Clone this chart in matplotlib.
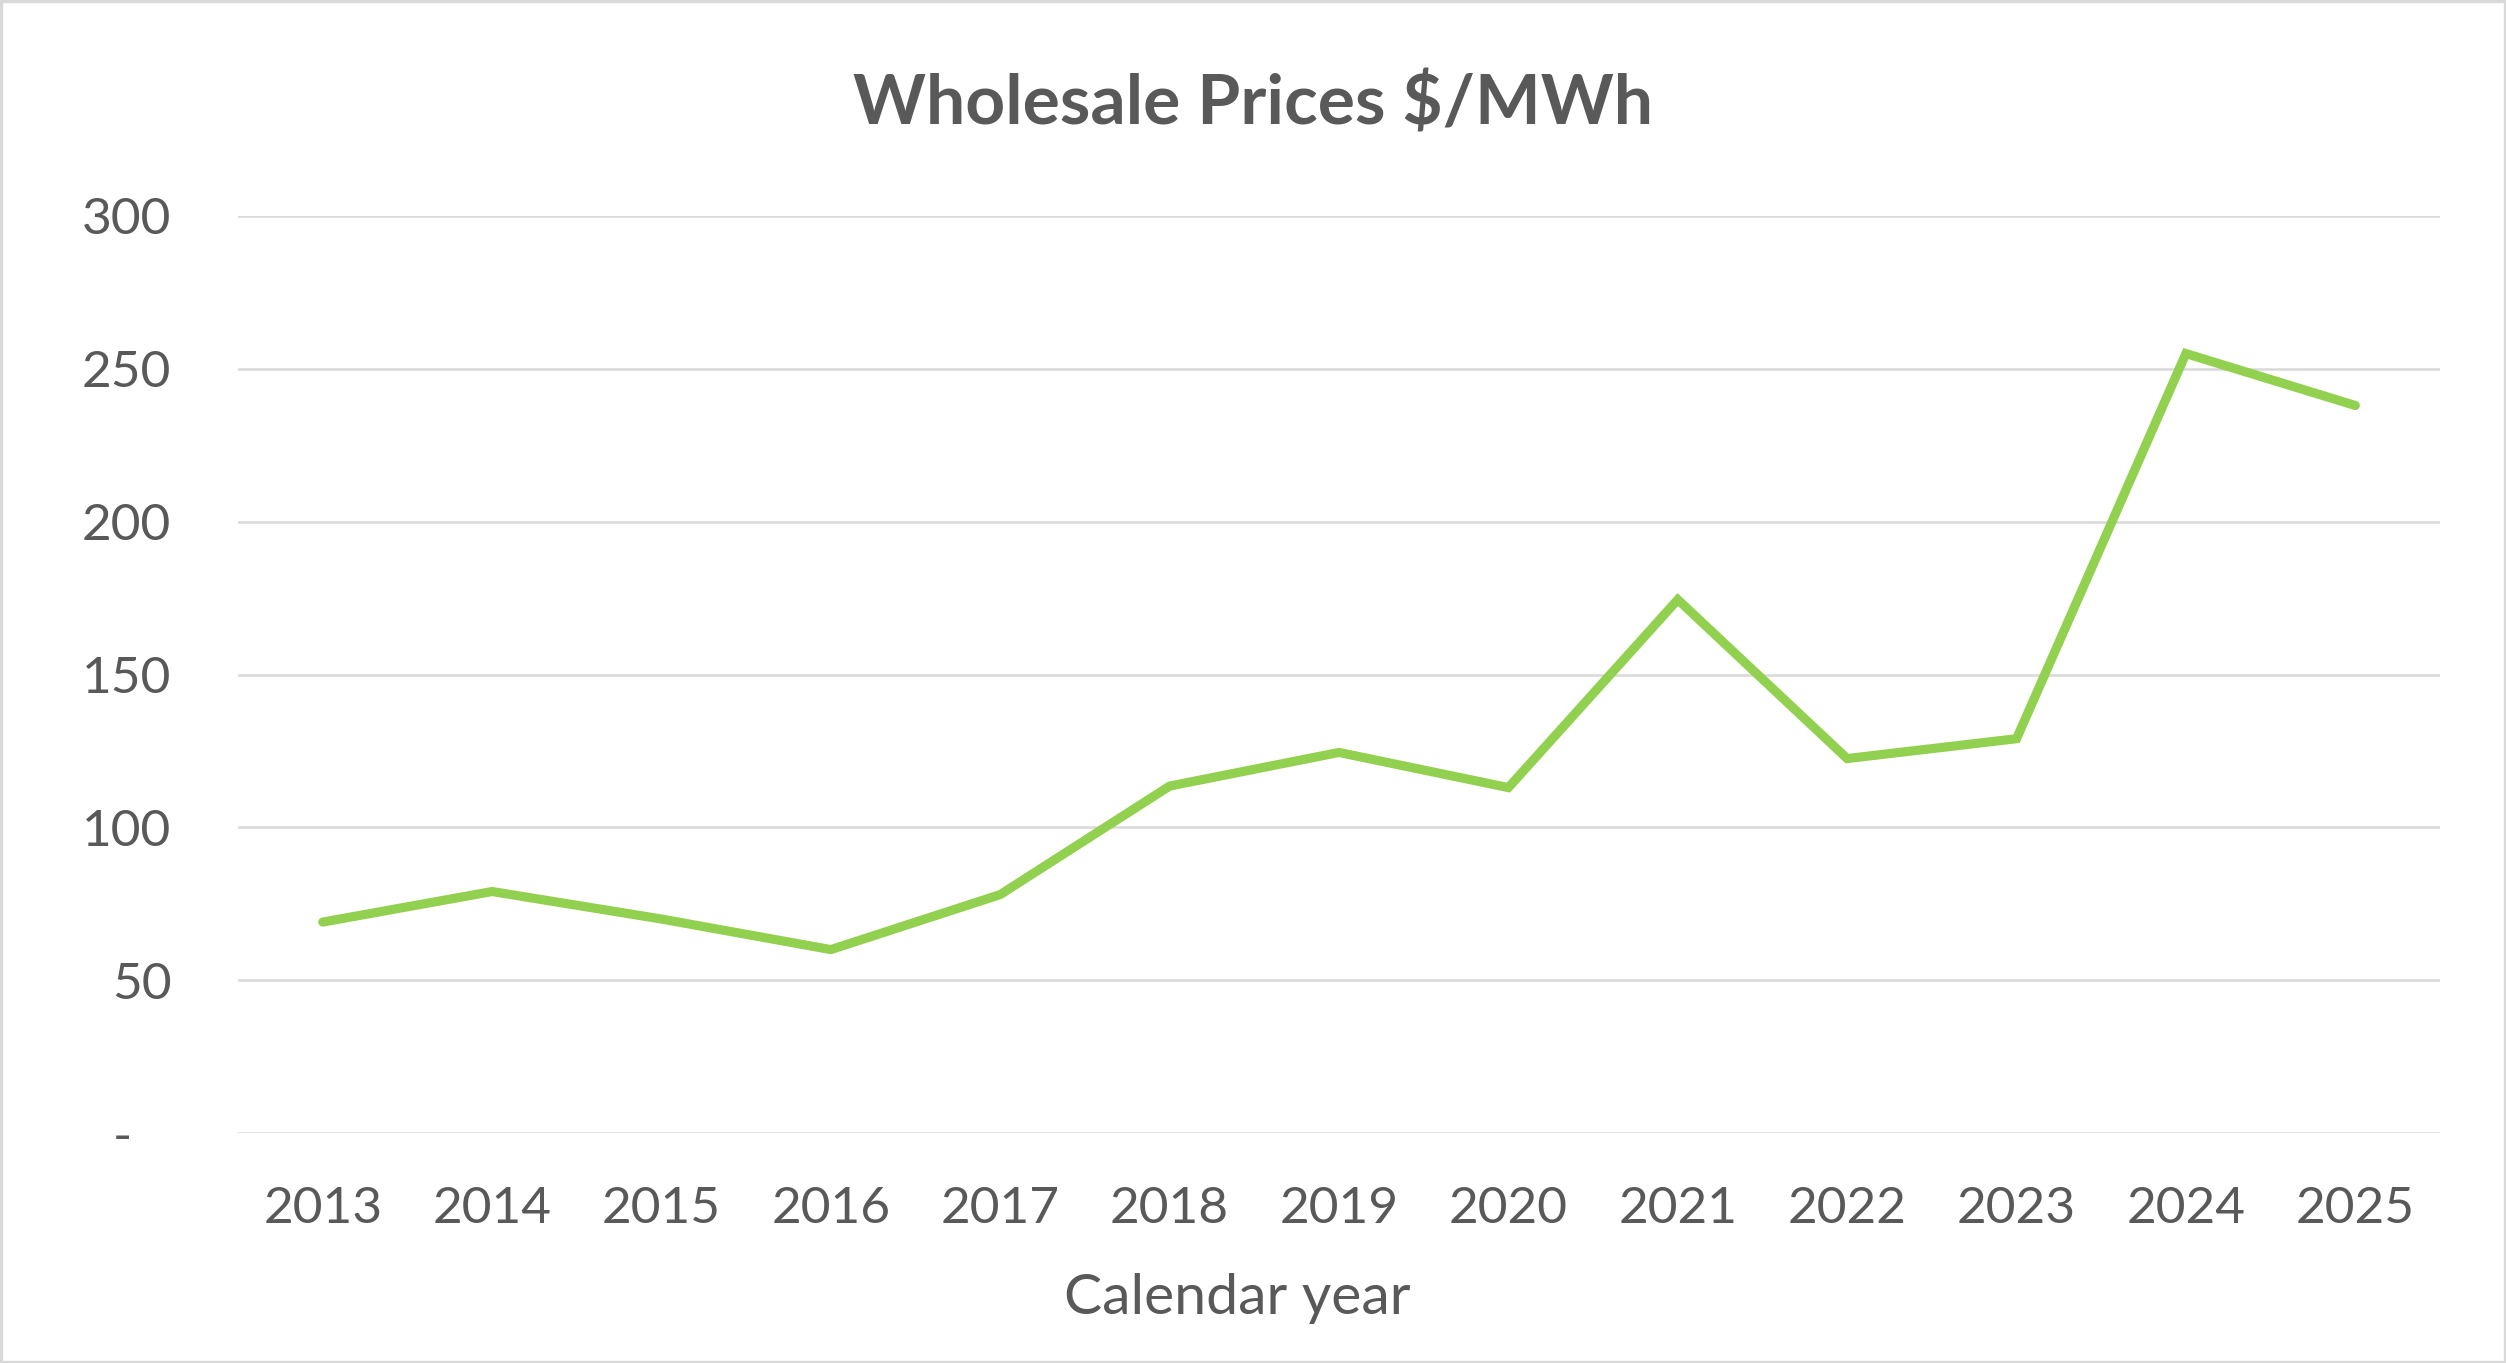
import matplotlib
matplotlib.use('Agg')
import matplotlib.pyplot as plt
from matplotlib.patches import Rectangle

# data
years = ['2013', '2014', '2015', '2016', '2017', '2018', '2019',
         '2020', '2021', '2022', '2023', '2024', '2025']
prices = [69, 79, 70, 60, 78, 113.5, 124.5, 113, 174.5, 122.5, 129, 255, 238]
yticks = [0, 50, 100, 150, 200, 250, 300]
ytick_labels = ['-   ', '50', '100', '150', '200', '250', '300']

TEXT = '#595959'
GRID = '#d9d9d9'
GREEN = '#92d050'

plt.rcParams['font.family'] = ['Lato', 'DejaVu Sans']

fig = plt.figure(figsize=(12.53, 6.815), dpi=200)
W, H = 2506, 1363
ax = fig.add_axes([238 / W, 1 - 1133 / H, (2440 - 238) / W, (1133 - 216) / H])

x = list(range(len(years)))
ax.plot(x, prices, color=GREEN, lw=3.3, solid_capstyle='round', solid_joinstyle='miter', zorder=3)

ax.set_xlim(-0.5, len(years) - 0.5)
ax.set_ylim(0, 300)
ax.set_xticks(x)
ax.set_xticklabels(years)
ax.set_yticks(yticks)
ax.set_yticklabels(ytick_labels)
ax.tick_params(axis='both', length=0, labelsize=18.5, labelcolor=TEXT)
ax.tick_params(axis='y', pad=24)
ax.tick_params(axis='x', pad=19)
ax.grid(axis='y', color=GRID, lw=0.9)
ax.set_axisbelow(True)
for s in ax.spines.values():
    s.set_visible(False)

fig.text(0.5, 1 - 104 / H, 'Wholesale Prices $/MWh', ha='center', va='center',
         fontsize=25, fontweight='bold', color=TEXT)
fig.text(1237 / W, 1 - 1298 / H, 'Calendar year', ha='center', va='center',
         fontsize=20.5, color=TEXT)

# light frame round the chart
fig.patches.append(Rectangle((0.0005, 0.001), 0.999, 0.998, transform=fig.transFigure,
                             fill=False, edgecolor=GRID, lw=1.2))

fig.savefig('out.png', dpi=200, facecolor='white')
